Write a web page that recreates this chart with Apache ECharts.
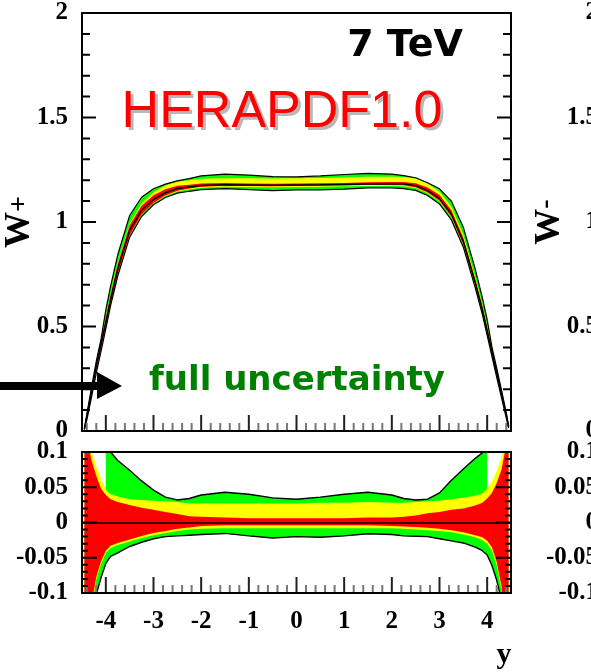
<!DOCTYPE html>
<html>
<head>
<meta charset="utf-8">
<title>W+ rapidity, HERAPDF1.0</title>
<style>
  html, body { margin: 0; padding: 0; background: #fff; }
  #chart { width: 591px; height: 672px; }
</style>
<script src="https://cdn.jsdelivr.net/npm/echarts@6/dist/echarts.min.js"></script>
</head>
<body>
<div id="chart"></div>
<script>
// rapidity points where the curves were read
const rapidity = [-4.45, -4.4, -4.3, -4.2, -4.1, -4.0, -3.9, -3.75, -3.5, -3.25, -3.0, -2.75, -2.5, -2.25, -2.0,
  -1.5, -1.0, -0.5, 0, 0.5, 1.0, 1.5, 2.0, 2.25, 2.5, 2.75, 3.0, 3.25, 3.5, 3.75, 3.9, 4.0, 4.1, 4.2, 4.3, 4.4, 4.45];

// central W+ prediction (top panel)
const wPlus = [0.01, 0.068, 0.19, 0.31, 0.415, 0.52, 0.63, 0.775, 0.96, 1.056, 1.108, 1.14, 1.16, 1.168, 1.175,
  1.178, 1.177, 1.176, 1.177, 1.178, 1.18, 1.182, 1.183, 1.182, 1.174, 1.15, 1.112, 1.037, 0.906, 0.71, 0.58, 0.48, 0.38, 0.28, 0.18, 0.078, 0.02];

// relative uncertainties (bottom panel)
// experimental (red)
const redHi = [0.2, 0.12, 0.088, 0.066, 0.048, 0.039, 0.033, 0.029, 0.025, 0.021, 0.018, 0.015, 0.012, 0.009, 0.008,
  0.007, 0.006, 0.006, 0.006, 0.006, 0.006, 0.007, 0.007, 0.008, 0.010, 0.013, 0.015, 0.018, 0.020, 0.024, 0.028, 0.034, 0.042, 0.056, 0.075, 0.11, 0.2];
const redLo = [-0.2, -0.16, -0.115, -0.077, -0.055, -0.040, -0.033, -0.029, -0.024, -0.019, -0.015, -0.012, -0.009, -0.007, -0.005,
  -0.004, -0.004, -0.004, -0.004, -0.004, -0.004, -0.004, -0.005, -0.0055, -0.0065, -0.0075, -0.009, -0.011, -0.014, -0.018, -0.021, -0.026, -0.035, -0.056, -0.09, -0.16, -0.2];
// model (yellow)
const yellowHi = [0.2, 0.15, 0.10, 0.08, 0.062, 0.046, 0.040, 0.037, 0.033, 0.032, 0.031, 0.030, 0.029, 0.027, 0.027,
  0.027, 0.027, 0.027, 0.027, 0.028, 0.028, 0.029, 0.028, 0.028, 0.029, 0.030, 0.031, 0.033, 0.035, 0.038, 0.041, 0.048, 0.058, 0.073, 0.092, 0.13, 0.2];
const yellowLo = [-0.2, -0.17, -0.12, -0.081, -0.059, -0.043, -0.036, -0.032, -0.027, -0.022, -0.018, -0.015, -0.012, -0.010, -0.009,
  -0.008, -0.008, -0.008, -0.008, -0.008, -0.008, -0.008, -0.008, -0.009, -0.010, -0.011, -0.012, -0.014, -0.017, -0.021, -0.025, -0.030, -0.040, -0.061, -0.095, -0.17, -0.2];
// parametrisation (green), upper side only given for |y| <= 4
const greenHi = [null, null, null, null, null, 0.115, 0.1, 0.088, 0.074, 0.059, 0.046, 0.036, 0.032, 0.034, 0.039,
  0.043, 0.040, 0.035, 0.033, 0.036, 0.040, 0.043, 0.039, 0.034, 0.032, 0.033, 0.042, 0.060, 0.076, 0.091, 0.099, 0.11, null, null, null, null, null];
const greenLo = [-0.3, -0.25, -0.15, -0.102, -0.078, -0.058, -0.048, -0.043, -0.034, -0.028, -0.023, -0.020, -0.019, -0.018, -0.017,
  -0.0155, -0.019, -0.022, -0.020, -0.021, -0.019, -0.016, -0.017, -0.019, -0.0195, -0.020, -0.023, -0.026, -0.029, -0.035, -0.040, -0.046, -0.061, -0.082, -0.11, -0.2, -0.3];

// tick positions
const xMajorTicks = [-4, -3, -2, -1, 0, 1, 2, 3, 4];
const xMinorTicks = [-4.4, -4.2, -3.8, -3.6, -3.4, -3.2, -2.8, -2.6, -2.4, -2.2, -1.8, -1.6, -1.4, -1.2, -0.8, -0.6, -0.4, -0.2,
  0.2, 0.4, 0.6, 0.8, 1.2, 1.4, 1.6, 1.8, 2.2, 2.4, 2.6, 2.8, 3.2, 3.4, 3.6, 3.8, 4.2, 4.4];
const topMajorTicks = [0, 0.5, 1, 1.5, 2];
const topMinorTicks = [0.1, 0.2, 0.3, 0.4, 0.6, 0.7, 0.8, 0.9, 1.1, 1.2, 1.3, 1.4, 1.6, 1.7, 1.8, 1.9];
const ratioMajorTicks = [-0.1, -0.05, 0, 0.05, 0.1];
const ratioMinorTicks = [-0.09, -0.08, -0.07, -0.06, -0.04, -0.03, -0.02, -0.01, 0.01, 0.02, 0.03, 0.04, 0.06, 0.07, 0.08, 0.09];

const GREEN = '#00ff00';
const YELLOW = '#ffff00';
const RED = '#ff0000';

// panel extents in data units and their size in pixels
const X_MIN = -4.5, X_MAX = 4.5;
const TOP = { yMin: 0, yMax: 2, pxW: 429, pxH: 418 };
const BOT = { yMin: -0.1, yMax: 0.1, pxW: 429, pxH: 141 };

const labelFont = {
  color: '#000',
  fontFamily: 'Liberation Serif',
  fontWeight: 'bold',
  fontSize: 25
};

// rows [x, lo, hi]
function rows(lo, hi) {
  const out = [];
  rapidity.forEach((x, i) => {
    if (lo[i] == null || hi[i] == null) return;
    out.push([x, lo[i], hi[i]]);
  });
  return out;
}

// one filled polygon between lo and hi
function band(data, color, xIdx, yIdx) {
  return {
    type: 'custom',
    xAxisIndex: xIdx,
    yAxisIndex: yIdx,
    clip: true,
    silent: true,
    data: data,
    renderItem: (params, api) => {
      if (params.dataIndex !== 0) return null;
      const upper = data.map(r => api.coord([r[0], r[2]]));
      const lower = data.map(r => api.coord([r[0], r[1]])).reverse();
      return {
        type: 'polygon',
        shape: { points: upper.concat(lower) },
        style: { fill: color, stroke: null }
      };
    }
  };
}

function curve(points, xIdx, yIdx, width) {
  return {
    type: 'line',
    xAxisIndex: xIdx,
    yAxisIndex: yIdx,
    data: points,
    showSymbol: false,
    symbol: 'none',
    silent: true,
    clip: true,
    lineStyle: { color: '#000', width: width }
  };
}

// inward tick marks as broken line segments; len is in pixels
function ticks(values, side, len, color, panel, idx) {
  const dx = len * (X_MAX - X_MIN) / panel.pxW;
  const dy = len * (panel.yMax - panel.yMin) / panel.pxH;
  const pts = [];
  values.forEach(v => {
    if (side === 'bottom') {
      pts.push([v, panel.yMin], [v, panel.yMin + dy], [v, '-']);
    } else if (side === 'left') {
      pts.push([X_MIN, v], [X_MIN + dx, v], [X_MIN, '-']);
    } else {
      pts.push([X_MAX, v], [X_MAX - dx, v], [X_MAX, '-']);
    }
  });
  return {
    type: 'line',
    xAxisIndex: idx,
    yAxisIndex: idx,
    data: pts,
    connectNulls: false,
    showSymbol: false,
    symbol: 'none',
    silent: true,
    clip: false,
    z: 6,
    lineStyle: { color: color, width: 2, cap: 'butt' }
  };
}

// top panel: absolute values from the relative bands
const scaled = rel => wPlus.map((w, i) => rel[i] == null ? null : w * (1 + rel[i]));
const greenHiTop = rapidity.map((x, i) => greenHi[i] == null ? yellowHi[i] : greenHi[i]);
const topGreenLo = scaled(greenLo), topGreenHi = scaled(greenHiTop);
const topYellowLo = scaled(yellowLo), topYellowHi = scaled(yellowHi);
const topRedLo = scaled(redLo), topRedHi = scaled(redHi);
const zeros = rapidity.map(() => 0);

const xAxisOf = (gridIndex, labels) => ({
  type: 'value', gridIndex, min: X_MIN, max: X_MAX, position: 'bottom',
  axisLine: { show: false, onZero: false },
  axisTick: { show: false },
  splitLine: { show: false },
  axisLabel: labels
    ? Object.assign({ show: true, margin: 16, customValues: xMajorTicks }, labelFont)
    : { show: false }
});
const yAxisOf = (gridIndex, min, max, interval, name) => ({
  type: 'value', gridIndex, min, max, interval, position: 'left',
  axisLine: { show: false, onZero: false },
  axisTick: { show: false },
  splitLine: { show: false },
  axisLabel: Object.assign({ show: true, margin: 14, padding: [6, 0, 0, 0] }, labelFont),
  name: name ? name.text : '',
  nameLocation: 'middle',
  nameRotate: 90,
  nameGap: 44,
  nameMoveOverlap: false,
  nameTextStyle: name ? {
    color: '#000',
    rich: {
      w: { fontFamily: 'Liberation Serif', fontWeight: 'bold', fontSize: 36, color: '#000' },
      s: { fontFamily: 'Liberation Serif', fontWeight: 'bold', fontSize: 28, color: '#000', verticalAlign: name.supAlign }
    }
  } : {}
});

const chart = echarts.init(document.getElementById('chart'), null, { renderer: 'canvas' });

const frame = {
  show: true, z: 10, backgroundColor: 'rgba(0,0,0,0)', borderColor: '#000', borderWidth: 2,
  outerBoundsMode: 'none'
};

chart.setOption({
  animation: false,
  backgroundColor: '#fff',
  grid: [
    Object.assign({ left: 82, top: 13, width: TOP.pxW, height: TOP.pxH }, frame),
    Object.assign({ left: 82, top: 452, width: BOT.pxW, height: BOT.pxH }, frame),
    // neighbouring W- panel, cut off at the right border
    { left: 612, top: 13, width: 429, height: 418, show: false, outerBoundsMode: 'none' },
    { left: 612, top: 452, width: 429, height: 141, show: false, outerBoundsMode: 'none' }
  ],
  xAxis: [
    xAxisOf(0, false),
    xAxisOf(1, true),
    { type: 'value', gridIndex: 2, min: X_MIN, max: X_MAX, show: false },
    { type: 'value', gridIndex: 3, min: X_MIN, max: X_MAX, show: false }
  ],
  yAxis: [
    yAxisOf(0, TOP.yMin, TOP.yMax, 0.5, { text: '{w|W}{s|+}', supAlign: 'middle' }),
    yAxisOf(1, BOT.yMin, BOT.yMax, 0.05),
    yAxisOf(2, TOP.yMin, TOP.yMax, 0.5, { text: '{w|W}{s|-}', supAlign: 'top' }),
    yAxisOf(3, BOT.yMin, BOT.yMax, 0.05)
  ],
  series: [
    // top panel
    band(rows(topGreenLo, topGreenHi), GREEN, 0, 0),
    band(rows(topYellowLo, topYellowHi), YELLOW, 0, 0),
    band(rows(topRedLo, topRedHi), RED, 0, 0),
    curve(rapidity.map((x, i) => [x, topGreenHi[i]]), 0, 0, 1.2),
    curve(rapidity.map((x, i) => [x, topGreenLo[i]]), 0, 0, 1.2),
    curve(rapidity.map((x, i) => [x, wPlus[i]]), 0, 0, 1.5),
    ticks(xMajorTicks, 'bottom', 16, '#222', TOP, 0),
    ticks(xMinorTicks, 'bottom', 8, '#777', TOP, 0),
    ticks(topMajorTicks, 'left', 14, '#000', TOP, 0),
    ticks(topMinorTicks, 'left', 8, '#000', TOP, 0),
    ticks(topMajorTicks, 'right', 14, '#000', TOP, 0),
    ticks(topMinorTicks, 'right', 8, '#000', TOP, 0),

    // bottom panel
    band(rows(zeros, greenHi), GREEN, 1, 1),
    band(rows(greenLo, zeros), GREEN, 1, 1),
    band(rows(yellowLo, yellowHi), YELLOW, 1, 1),
    band(rows(redLo, redHi), RED, 1, 1),
    curve(rows(zeros, greenHi).map(r => [r[0], r[2]]), 1, 1, 1.4),
    Object.assign(curve(rapidity.map((x, i) => [x, greenLo[i]]), 1, 1, 1.4), {
      markLine: {
        silent: true,
        symbol: 'none',
        label: { show: false },
        lineStyle: { color: '#000', width: 1.5, type: 'solid' },
        data: [{ yAxis: 0 }]
      }
    }),
    ticks(xMajorTicks, 'bottom', 16, '#222', BOT, 1),
    ticks(xMinorTicks, 'bottom', 8, '#777', BOT, 1),
    ticks(ratioMajorTicks, 'left', 15, '#000', BOT, 1),
    ticks(ratioMinorTicks, 'left', 6, '#000', BOT, 1),
    ticks(ratioMajorTicks, 'right', 15, '#000', BOT, 1),
    ticks(ratioMinorTicks, 'right', 6, '#000', BOT, 1)
  ],
  graphic: [
    {
      type: 'text', x: 405, y: 46, z: 20,
      style: { text: '7 TeV', font: 'bold 38px "DejaVu Sans"', fill: '#000', textAlign: 'center', textVerticalAlign: 'middle' }
    },
    {
      type: 'text', x: 285, y: 116, z: 19,
      style: { text: 'HERAPDF1.0', font: '52px "Liberation Sans"', fill: 'rgba(0,0,0,0.28)', textAlign: 'center', textVerticalAlign: 'middle' }
    },
    {
      type: 'text', x: 282, y: 113, z: 20,
      style: { text: 'HERAPDF1.0', font: '52px "Liberation Sans"', fill: '#ff0000', textAlign: 'center', textVerticalAlign: 'middle' }
    },
    {
      type: 'text', x: 297, y: 381, z: 20,
      style: { text: 'full uncertainty', font: 'bold 34px "DejaVu Sans"', fill: '#008000', textAlign: 'center', textVerticalAlign: 'middle' }
    },
    {
      type: 'polygon', z: 20,
      shape: { points: [[0, 382], [97, 382], [97, 372], [122, 386], [97, 399], [97, 390], [0, 390]] },
      style: { fill: '#000' }
    },
    {
      type: 'text', x: 504, y: 655, z: 20,
      style: { text: 'y', font: 'bold 30px "Liberation Serif"', fill: '#000', textAlign: 'center', textVerticalAlign: 'middle' }
    }
  ]
});
</script>
</body>
</html>
